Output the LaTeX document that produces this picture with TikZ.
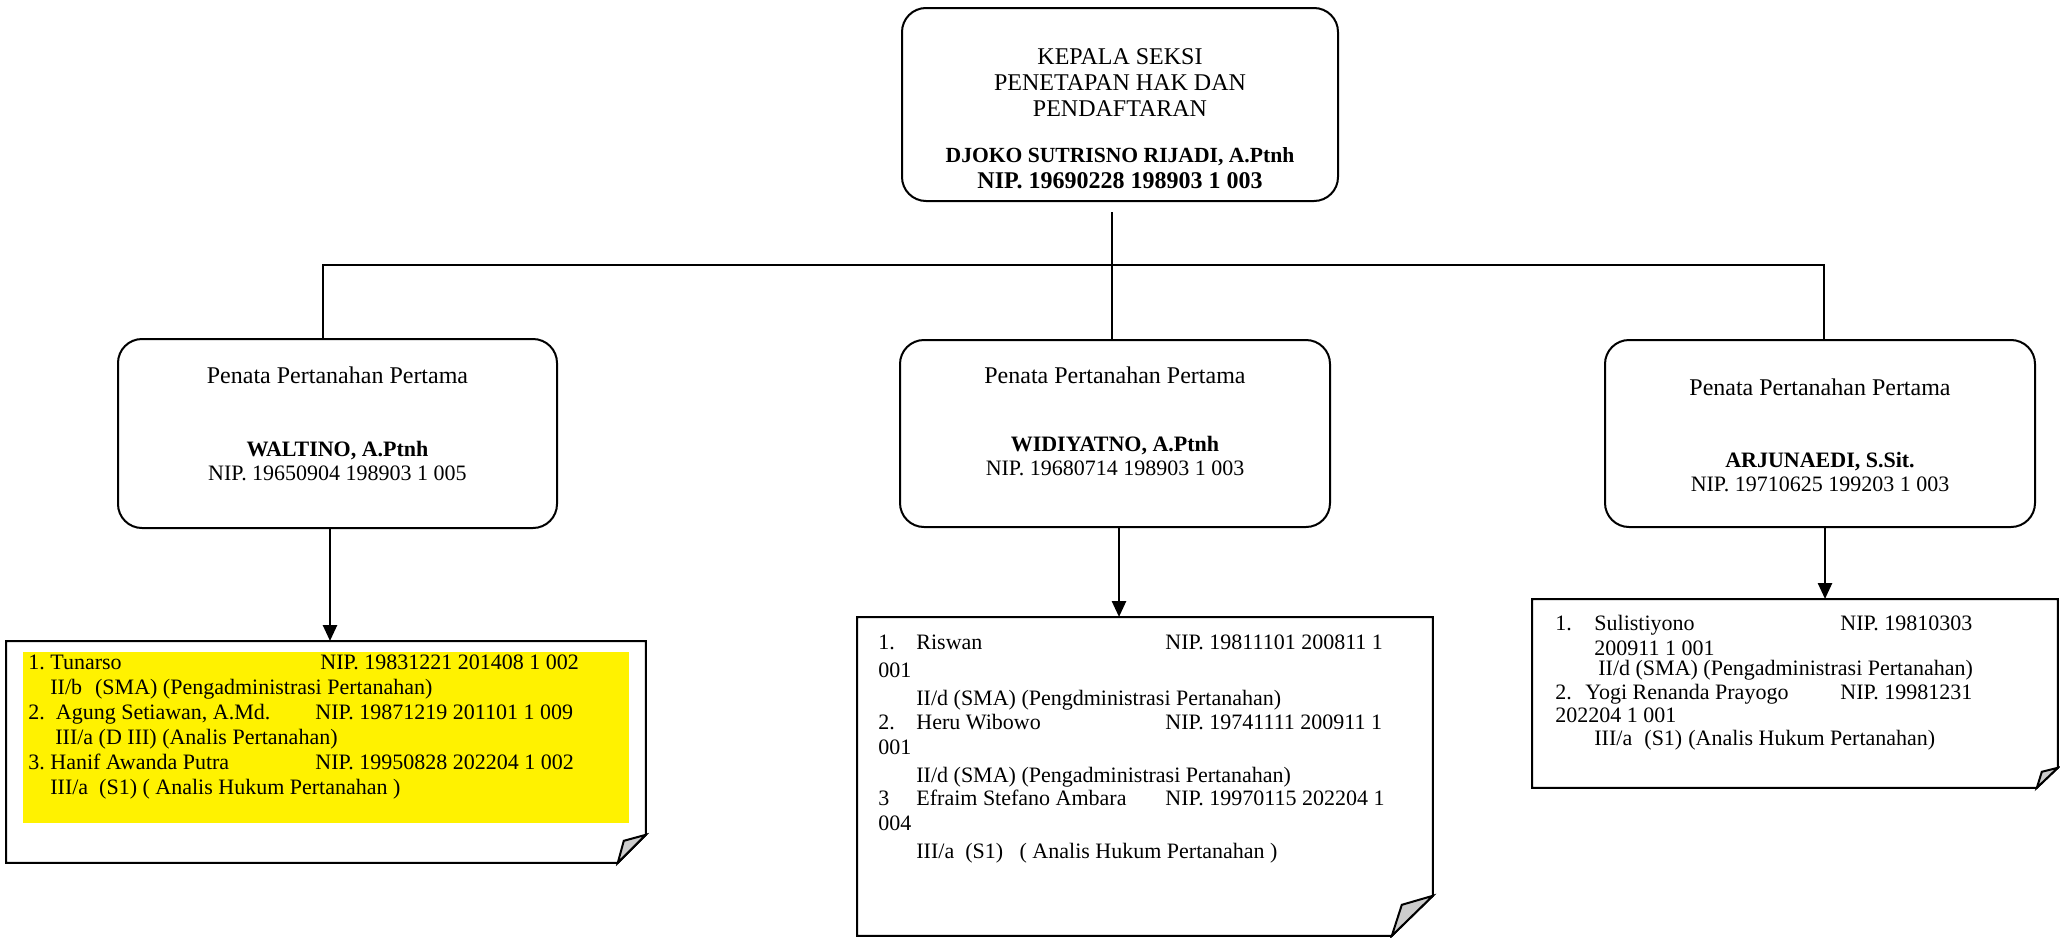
\documentclass[tikz,border=0pt]{standalone}
\usepackage{fontspec}
\setmainfont{Liberation Serif}
\usetikzlibrary{arrows.meta, calc}
\frenchspacing

\begin{document}
\begin{tikzpicture}[x=0.5pt, y=-0.5pt,
    box/.style={rectangle, rounded corners=12pt, draw, line width=1pt, inner sep=0pt, align=flush center, font=\fontsize{12}{13}\selectfont},
    note/.style={rectangle, inner ysep=0pt, anchor=north west, align=flush left, font=\fontsize{11}{12.5}\selectfont},
    line/.style={line width=1pt},
    arr/.style={-{Triangle[length=8pt,width=7pt]}, line width=1.3pt}]
    \useasboundingbox (0,0) rectangle (2060,937);

    % head of section
    \node (kasi)[box, anchor=north, text width=218pt, text height=28pt, text depth=68.5pt] at (1120,7)
        {KEPALA SEKSI\\PENETAPAN HAK DAN\\PENDAFTARAN\\[10pt]
         {\fontsize{10.8}{13}\selectfont\textbf{DJOKO SUTRISNO RIJADI, A.Ptnh}}\\\textbf{NIP. 19690228 198903 1 003}};

    % the three officers
    \node (ppA)[box, anchor=north, text width=219.5pt, text height=22pt, text depth=72.5pt, font=\fontsize{12}{12}\selectfont] at (337.5,338)
        {Penata Pertanahan Pertama\\[24.5pt]{\fontsize{11}{12}\selectfont\textbf{WALTINO, A.Ptnh}}\\{\fontsize{11}{12}\selectfont NIP. 19650904 198903 1 005}};
    \node (ppB)[box, anchor=north, text width=215pt, text height=21.5pt, text depth=72pt, font=\fontsize{12}{12}\selectfont] at (1115,339)
        {Penata Pertanahan Pertama\\[22pt]{\fontsize{11}{12}\selectfont\textbf{WIDIYATNO, A.Ptnh}}\\{\fontsize{11}{12}\selectfont NIP. 19680714 198903 1 003}};
    \node (ppC)[box, anchor=north, text width=215pt, text height=27.5pt, text depth=66pt, font=\fontsize{12}{12}\selectfont] at (1820,339)
        {Penata Pertanahan Pertama\\[24pt]{\fontsize{11}{12}\selectfont\textbf{ARJUNAEDI, S.Sit.}}\\{\fontsize{11}{12}\selectfont NIP. 19710625 199203 1 003}};

    % staff lists
    \fill[yellow] (23,652) rectangle (629,823);
    \node (stA)[note, inner xsep=11pt, text width=297.5pt, text height=14pt, text depth=96.5pt] at (6,641)
        {\makebox[146pt][l]{1. Tunarso}NIP. 19831221 201408 1 002\\
         \hspace*{11pt}II/b\hspace{6.5pt}(SMA) (Pengadministrasi Pertanahan)\\
         \makebox[143.5pt][l]{2.\ \ Agung Setiawan, A.Md.}NIP. 19871219 201101 1 009\\
         \hspace*{13.5pt}III/a (D III) (Analis Pertanahan)\\
         \makebox[143.5pt][l]{3. Hanif Awanda Putra}NIP. 19950828 202204 1 002\\
         \hspace*{11pt}III/a\ \ (S1) ( Analis Hukum Pertanahan )};
    \node (stB)[note, inner xsep=10.5pt, text width=266.5pt, text height=16pt, text depth=143pt] at (857,617)
        {\makebox[19pt][l]{1.}\makebox[124.5pt][l]{Riswan}NIP. 19811101 200811 1\\[1.5pt]
         001\\[1.5pt]
         \hspace*{19pt}II/d (SMA) (Pengdministrasi Pertanahan)\\[-0.5pt]
         \makebox[19pt][l]{2.}\makebox[124.5pt][l]{Heru Wibowo}NIP. 19741111 200911 1\\
         001\\[1.5pt]
         \hspace*{19pt}II/d (SMA) (Pengadministrasi Pertanahan)\\[-1pt]
         \makebox[19pt][l]{3}\makebox[124.5pt][l]{Efraim Stefano Ambara}NIP. 19970115 202204 1\\
         004\\[1.5pt]
         \hspace*{19pt}III/a\ \ (S1)\ \ \ ( Analis Hukum Pertanahan )};
    \node (stC)[note, inner xsep=11.5pt, text width=239.5pt, text height=15.5pt, text depth=78.5pt, font=\fontsize{11}{11.5}\selectfont] at (1532,599)
        {\makebox[19.5pt][l]{1.}\makebox[123pt][l]{Sulistiyono}NIP. 19810303\\[1pt]
         \hspace*{19.5pt}200911 1 001\\[-1.5pt]
         \hspace*{21.5pt}II/d (SMA) (Pengadministrasi Pertanahan)\\[0.5pt]
         \makebox[15pt][l]{2.}\makebox[127.5pt][l]{Yogi Renanda Prayogo}NIP. 19981231\\
         202204 1 001\\
         \hspace*{19.5pt}\makebox[25pt][l]{III/a}\makebox[22pt][l]{(S1)}(Analis Hukum Pertanahan)};

    % sheets with folded corner
    \draw[line] (stA.north west) -- (stA.north east) -- ($(stA.south east)+(0,-28)$) -- ($(stA.south east)+(-28,0)$) -- (stA.south west) -- cycle;
    \filldraw[line, fill=gray!40] ($(stA.south east)+(0,-28)$) -- ($(stA.south east)+(-22,-22)$) -- ($(stA.south east)+(-28,0)$) -- cycle;
    \draw[line] (stB.north west) -- (stB.north east) -- ($(stB.south east)+(0,-40)$) -- ($(stB.south east)+(-41,0)$) -- (stB.south west) -- cycle;
    \filldraw[line, fill=gray!40] ($(stB.south east)+(0,-40)$) -- ($(stB.south east)+(-31,-31)$) -- ($(stB.south east)+(-41,0)$) -- cycle;
    \draw[line] (stC.north west) -- (stC.north east) -- ($(stC.south east)+(0,-20)$) -- ($(stC.south east)+(-21,0)$) -- (stC.south west) -- cycle;
    \filldraw[line, fill=gray!40] ($(stC.south east)+(0,-20)$) -- ($(stC.south east)+(-16,-16)$) -- ($(stC.south east)+(-21,0)$) -- cycle;

    % connectors
    \coordinate (bus) at (1112,265);
    \draw[line] ([xshift=-4pt,yshift=-5pt]kasi.south) -- ([xshift=-4pt]kasi.south |- ppB.north);
    \draw[line] ([xshift=-7.25pt]ppA.north) |- ([xshift=2pt]ppC.north |- bus) -- ([xshift=2pt]ppC.north);

    \draw[arr] ([xshift=-3.75pt]ppA.south) -- ([xshift=-3.75pt]ppA.south |- stA.north);
    \draw[arr] ([xshift=2pt]ppB.south) -- ([xshift=2pt]ppB.south |- stB.north);
    \draw[arr] ([xshift=2.5pt]ppC.south) -- ([xshift=2.5pt]ppC.south |- stC.north);
\end{tikzpicture}
\end{document}
